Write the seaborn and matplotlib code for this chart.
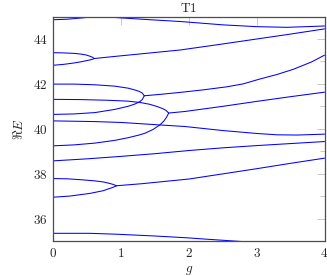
import pandas as pd
import matplotlib
matplotlib.use("Agg")
import matplotlib.pyplot as plt
import seaborn as sns
from matplotlib.ticker import MultipleLocator, FuncFormatter

# ==========================================
# DATA (g vs Re E)
# ==========================================

# pair near the top edge, merging around g = 0.62
g_top_up = [0, 0.2, 0.4, 0.62]
e_top_up = [45.0, 45.0, 45.0, 44.99]
g_top_lo = [0, 0.2, 0.35, 0.49, 0.57, 0.62]
e_top_lo = [44.86, 44.88, 44.92, 44.96, 44.98, 44.99]
g_top = [0.62, 0.8, 1.0, 1.42, 1.87, 2.0, 2.5, 3.0, 3.45, 4.0]
e_top = [44.99, 44.98, 44.94, 44.86, 44.78, 44.75, 44.63, 44.55, 44.52, 44.58]

# pair at 43.4 / 42.8
g_b_up = [0, 0.15, 0.3, 0.4, 0.48, 0.54, 0.58, 0.60]
e_b_up = [43.39, 43.38, 43.36, 43.33, 43.29, 43.23, 43.18, 43.13]
g_b_lo = [0, 0.15, 0.3, 0.4, 0.48, 0.54, 0.58, 0.60]
e_b_lo = [42.83, 42.87, 42.93, 42.98, 43.03, 43.07, 43.10, 43.13]
g_b = [0.60, 0.96, 1.5, 1.87, 2.5, 3.0, 3.5, 4.0]
e_b = [43.13, 43.24, 43.40, 43.51, 43.78, 44.0, 44.22, 44.45]

# pair at 42.0 / 40.6
g_c1 = [0, 0.3, 0.61, 0.9, 1.1, 1.2, 1.27, 1.31, 1.34]
e_c1 = [41.99, 41.99, 41.96, 41.90, 41.81, 41.73, 41.66, 41.59, 41.47]
g_c2 = [0, 0.3, 0.61, 0.9, 1.1, 1.2, 1.27, 1.31, 1.34]
e_c2 = [40.64, 40.66, 40.72, 40.86, 41.0, 41.10, 41.20, 41.30, 41.47]
g_c12 = [1.34, 1.6, 1.87, 2.2, 2.56, 2.8, 3.05, 3.3, 3.54, 3.81, 4.0]
e_c12 = [41.47, 41.54, 41.62, 41.73, 41.87, 42.0, 42.22, 42.42, 42.65, 42.98, 43.28]

# pair at 41.3 / 39.2
g_c3 = [0, 0.4, 0.8, 1.1, 1.28, 1.42, 1.53, 1.61, 1.66, 1.70]
e_c3 = [41.31, 41.30, 41.27, 41.23, 41.17, 41.09, 40.99, 40.90, 40.82, 40.70]
g_c4 = [0, 0.3, 0.61, 0.9, 1.1, 1.25, 1.35, 1.47, 1.57, 1.63, 1.67, 1.70]
e_c4 = [39.24, 39.28, 39.36, 39.48, 39.60, 39.71, 39.80, 39.97, 40.17, 40.35, 40.52, 40.70]
g_c34 = [1.70, 1.94, 2.5, 3.0, 3.5, 4.0]
e_c34 = [40.70, 40.77, 41.0, 41.22, 41.43, 41.63]

# single line from 40.35
g_c5 = [0, 0.61, 1.0, 1.57, 1.94, 2.5, 3.0, 3.3, 3.6, 4.0]
e_c5 = [40.35, 40.32, 40.28, 40.17, 40.10, 39.92, 39.79, 39.73, 39.72, 39.76]

# single line from 38.57
g_d = [0, 0.5, 1.0, 1.5, 2.0, 2.5, 3.0, 3.5, 4.0]
e_d = [38.57, 38.66, 38.77, 38.89, 39.03, 39.15, 39.25, 39.34, 39.43]

# pair at 37.8 / 37.0
g_e_up = [0, 0.2, 0.44, 0.6, 0.735, 0.82, 0.88, 0.93]
e_e_up = [37.78, 37.77, 37.72, 37.68, 37.63, 37.57, 37.52, 37.46]
g_e_lo = [0, 0.24, 0.54, 0.735, 0.82, 0.88, 0.93]
e_e_lo = [36.95, 37.0, 37.12, 37.24, 37.33, 37.39, 37.46]
g_e = [0.93, 1.3, 1.6, 2.0, 2.5, 3.0, 3.5, 4.0]
e_e = [37.46, 37.55, 37.64, 37.76, 37.99, 38.22, 38.46, 38.69]

# bottom line
g_f = [0, 0.54, 0.93, 1.5, 1.97, 2.3, 2.7, 3.0]
e_f = [35.34, 35.34, 35.30, 35.22, 35.14, 35.07, 34.99, 34.93]

x_ticks = [0, 1, 2, 3, 4]
y_ticks = [36, 38, 40, 42, 44]

branches = [
    (g_top_up, e_top_up), (g_top_lo, e_top_lo), (g_top, e_top),
    (g_b_up, e_b_up), (g_b_lo, e_b_lo), (g_b, e_b),
    (g_c1, e_c1), (g_c2, e_c2), (g_c12, e_c12),
    (g_c3, e_c3), (g_c4, e_c4), (g_c34, e_c34),
    (g_c5, e_c5), (g_d, e_d),
    (g_e_up, e_e_up), (g_e_lo, e_e_lo), (g_e, e_e),
    (g_f, e_f),
]

rows = []
for i, (gs, es) in enumerate(branches):
    for g, e in zip(gs, es):
        rows.append({"branch": i, "g": g, "E": e})
df = pd.DataFrame(rows)

# ==========================================
# PLOT
# ==========================================

sns.set_style("white")
plt.rcParams["font.family"] = ["DejaVu Serif"]
plt.rcParams["mathtext.fontset"] = "cm"

fig = plt.figure(figsize=(3.27, 2.76), dpi=100)
ax = fig.add_axes([0.1636, 0.127, 0.8288, 0.813])

sns.lineplot(
    data=df, x="g", y="E", units="branch", estimator=None, sort=False,
    color="#0000ff", linewidth=0.75, ax=ax, legend=False
)

ax.set_xlim(0, 4)
ax.set_ylim(35, 45)
ax.set_xticks(x_ticks)
ax.set_yticks(y_ticks)
ax.yaxis.set_minor_locator(MultipleLocator(1))
fmt = FuncFormatter(lambda v, p: f"${v:g}$")
ax.xaxis.set_major_formatter(fmt)
ax.yaxis.set_major_formatter(fmt)

ax.tick_params(which="both", direction="in", top=True, right=True,
               color="0.75", width=0.6, labelsize=9.5, pad=4)
ax.tick_params(which="major", length=5.5)
ax.tick_params(which="minor", length=3.5)
for s in ax.spines.values():
    s.set_color("0.3")
    s.set_linewidth(0.9)

ax.set_title(r"$\mathrm{T1}$", fontsize=9.5, pad=3)
ax.set_xlabel(r"$g$", fontsize=9.5, labelpad=3)
ax.set_ylabel(r"$\Re E$", fontsize=9.5, labelpad=5)

fig.savefig("out.png", dpi=100)
